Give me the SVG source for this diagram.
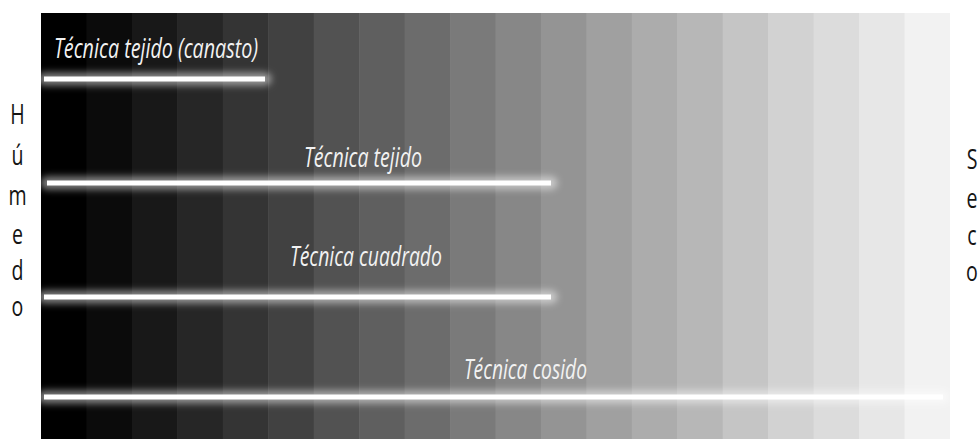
<svg xmlns="http://www.w3.org/2000/svg" width="980" height="439" viewBox="0 0 980 439">
  <defs>
    <style>
      .side { font-family: "Open Sans", "Liberation Sans", sans-serif; font-size: 28px; fill: #151515; }
      .lbl { font-family: "Open Sans", "Liberation Sans", sans-serif; font-style: italic; font-size: 28px; fill: #f2f2f2; }
      .glow { stroke: #ffffff; stroke-opacity: 0.5; stroke-width: 13; stroke-linecap: round; filter: url(#blur); }
      .bar { stroke: #ffffff; stroke-width: 5; stroke-linecap: butt; }
    </style>
    <filter id="blur" filterUnits="userSpaceOnUse" x="0" y="0" width="980" height="439">
      <feGaussianBlur stdDeviation="3.5"/>
    </filter>
  </defs>
  <rect x="0" y="0" width="980" height="439" fill="#ffffff"/>
  <g id="stripes">
    <rect x="41" y="13" width="46" height="426" fill="#000000"/>
    <rect x="86.45" y="13" width="46" height="426" fill="#0b0b0b"/>
    <rect x="131.9" y="13" width="46" height="426" fill="#181818"/>
    <rect x="177.35" y="13" width="46" height="426" fill="#262626"/>
    <rect x="222.8" y="13" width="46" height="426" fill="#343434"/>
    <rect x="268.25" y="13" width="46" height="426" fill="#414141"/>
    <rect x="313.7" y="13" width="46" height="426" fill="#525252"/>
    <rect x="359.15" y="13" width="46" height="426" fill="#5f5f5f"/>
    <rect x="404.6" y="13" width="46" height="426" fill="#6c6c6c"/>
    <rect x="450.05" y="13" width="46" height="426" fill="#7a7a7a"/>
    <rect x="495.5" y="13" width="46" height="426" fill="#878787"/>
    <rect x="540.95" y="13" width="46" height="426" fill="#949494"/>
    <rect x="586.4" y="13" width="46" height="426" fill="#a0a0a0"/>
    <rect x="631.85" y="13" width="46" height="426" fill="#acacac"/>
    <rect x="677.3" y="13" width="46" height="426" fill="#b7b7b7"/>
    <rect x="722.75" y="13" width="46" height="426" fill="#c5c5c5"/>
    <rect x="768.2" y="13" width="46" height="426" fill="#d2d2d2"/>
    <rect x="813.65" y="13" width="46" height="426" fill="#dcdcdc"/>
    <rect x="859.1" y="13" width="46" height="426" fill="#e7e7e7"/>
    <rect x="904.55" y="13" width="45.45" height="426" fill="#f2f2f2"/>
  </g>
  <g id="connectors">
    <g id="bar-canasto">
      <line class="glow" x1="44" y1="79" x2="265" y2="79"/>
      <line class="bar" x1="44" y1="79" x2="265" y2="79"/>
    </g>
    <g id="bar-tejido">
      <line class="glow" x1="47" y1="183" x2="551" y2="183"/>
      <line class="bar" x1="47" y1="183" x2="551" y2="183"/>
    </g>
    <g id="bar-cuadrado">
      <line class="glow" x1="44" y1="297" x2="551" y2="297"/>
      <line class="bar" x1="44" y1="297" x2="551" y2="297"/>
    </g>
    <g id="bar-cosido">
      <line class="glow" x1="44" y1="397" x2="943" y2="397"/>
      <line class="bar" x1="44" y1="397" x2="943" y2="397"/>
    </g>
  </g>
  <g id="label-canasto">
    <text class="lbl" x="54" y="58" textLength="204" lengthAdjust="spacingAndGlyphs">Técnica tejido (canasto)</text>
  </g>
  <g id="label-tejido">
    <text class="lbl" x="304" y="167" textLength="118" lengthAdjust="spacingAndGlyphs">Técnica tejido</text>
  </g>
  <g id="label-cuadrado">
    <text class="lbl" x="290" y="266" textLength="152" lengthAdjust="spacingAndGlyphs">Técnica cuadrado</text>
  </g>
  <g id="label-cosido">
    <text class="lbl" x="464" y="379" textLength="123" lengthAdjust="spacingAndGlyphs">Técnica cosido</text>
  </g>
  <g id="humedo">
    <text class="side" transform="translate(17.5 124) scale(0.7 1)" text-anchor="middle">H</text>
    <text class="side" transform="translate(17.5 165) scale(0.7 1)" text-anchor="middle">ú</text>
    <text class="side" transform="translate(17.5 205) scale(0.7 1)" text-anchor="middle">m</text>
    <text class="side" transform="translate(17.5 244) scale(0.7 1)" text-anchor="middle">e</text>
    <text class="side" transform="translate(17.5 280) scale(0.7 1)" text-anchor="middle">d</text>
    <text class="side" transform="translate(17.5 316) scale(0.7 1)" text-anchor="middle">o</text>
  </g>
  <g id="seco">
    <text class="side" transform="translate(972 169) scale(0.7 1)" text-anchor="middle">S</text>
    <text class="side" transform="translate(972 208) scale(0.7 1)" text-anchor="middle">e</text>
    <text class="side" transform="translate(972 245) scale(0.7 1)" text-anchor="middle">c</text>
    <text class="side" transform="translate(972 281) scale(0.7 1)" text-anchor="middle">o</text>
  </g>
</svg>
